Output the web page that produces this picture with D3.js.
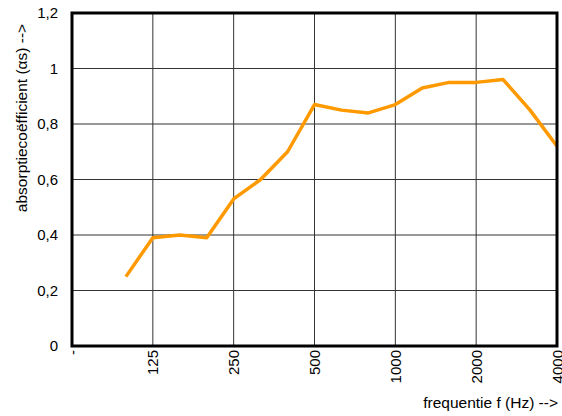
<!DOCTYPE html>
<html>
<head>
<meta charset="utf-8">
<script src="https://cdn.jsdelivr.net/npm/d3@7"></script>
<style>
  body { margin: 0; background: #fff; }
  text { font-family: "Liberation Sans", Arial, sans-serif; fill: #000; }
</style>
</head>
<body>
<div id="chart-area"></div>
<script>
// categories along the x axis (third-octave bands), label shown every 3rd
var freqs = ["63", "80", "100", "125", "160", "200", "250", "315", "400", "500",
             "630", "800", "1000", "1250", "1600", "2000", "2500", "3150", "4000"]
var tickLabels = ["-", "", "", "125", "", "", "250", "", "", "500",
                  "", "", "1000", "", "", "2000", "", "", "4000"]
// measured absorption, starts at 100 Hz
var absFreqs = ["100", "125", "160", "200", "250", "315", "400", "500", "630",
                "800", "1000", "1250", "1600", "2000", "2500", "3150", "4000"]
var absValues = [0.25, 0.39, 0.40, 0.39, 0.53, 0.60, 0.70, 0.87, 0.85,
                 0.84, 0.87, 0.93, 0.95, 0.95, 0.96, 0.85, 0.72]
var yTicks = [0, 0.2, 0.4, 0.6, 0.8, 1, 1.2]

var svgWidth = 562
var svgHeight = 416
var margin = {top: 13, right: 5, bottom: 70, left: 72}
var w = svgWidth - margin.left - margin.right
var h = svgHeight - margin.top - margin.bottom

var svg = d3.select("#chart-area")
	.append("svg")
	.attr("width", svgWidth)
	.attr("height", svgHeight)

var g = svg.append("g")
	.attr("transform", "translate(" + margin.left + "," + margin.top + ")")

var x = d3.scalePoint()
	.domain(freqs)
	.range([0, w])

var y = d3.scaleLinear()
	.domain([0, 1.2])
	.range([h, 0])

var fmt = function(d){ return String(d).replace(".", ",") }

// horizontal grid
g.selectAll(".hgrid").data(yTicks)
	.enter().append("line")
	.attr("x1", 0).attr("x2", w)
	.attr("y1", function(d){ return y(d) })
	.attr("y2", function(d){ return y(d) })
	.attr("stroke", "#333").attr("stroke-width", 1)

// vertical grid on labelled categories
var labelled = freqs.filter(function(f, i){ return tickLabels[i] !== "" })
g.selectAll(".vgrid").data(labelled)
	.enter().append("line")
	.attr("x1", function(d){ return x(d) })
	.attr("x2", function(d){ return x(d) })
	.attr("y1", 0).attr("y2", h)
	.attr("stroke", "#333").attr("stroke-width", 1)

// y tick labels
g.selectAll(".ylab").data(yTicks)
	.enter().append("text")
	.attr("x", -14)
	.attr("y", function(d){ return y(d) })
	.attr("dy", "0.35em")
	.attr("text-anchor", "end")
	.style("font-size", "15px")
	.text(fmt)

// x tick labels, rotated
g.selectAll(".xlab").data(labelled)
	.enter().append("text")
	.attr("transform", function(d){
		return "translate(" + (x(d) + 5.5) + "," + (h + 4) + ") rotate(-90)"
	})
	.attr("text-anchor", "end")
	.style("font-size", "15px")
	.text(function(d){ return tickLabels[freqs.indexOf(d)] })

// data line
var line = d3.line()
	.x(function(d, i){ return x(absFreqs[i]) })
	.y(function(d){ return y(d) })

g.append("path")
	.datum(absValues)
	.attr("d", line)
	.attr("fill", "none")
	.attr("stroke", "#FF9900")
	.attr("stroke-width", 3.5)
	.attr("stroke-linejoin", "round")

// plot frame
g.append("rect")
	.attr("x", 0).attr("y", 0)
	.attr("width", w).attr("height", h)
	.attr("fill", "none")
	.attr("stroke", "#000")
	.attr("stroke-width", 3)

// axis titles
svg.append("text")
	.attr("transform", "translate(27," + 118 + ") rotate(-90)")
	.attr("text-anchor", "middle")
	.style("font-size", "15.5px")
	.text("absorptiecoëfficient (αs) -->")

svg.append("text")
	.attr("x", 558)
	.attr("y", 408)
	.attr("text-anchor", "end")
	.style("font-size", "15.5px")
	.text("frequentie f (Hz) -->")
</script>
</body>
</html>
